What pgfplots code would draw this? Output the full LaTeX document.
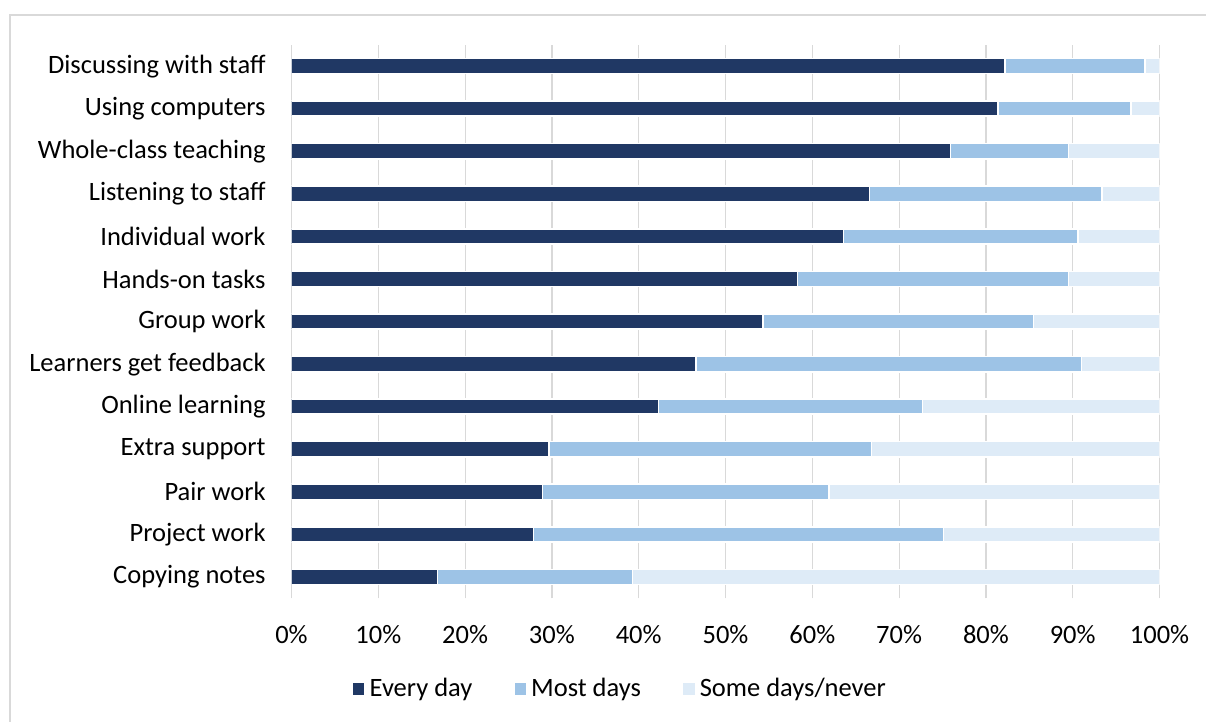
\documentclass[border=0pt]{standalone}
\usepackage{pgfplots}
\pgfplotsset{compat=1.18}
\usepackage{fontspec}
\setmainfont{Carlito}
\definecolor{cDark}{HTML}{203864}
\definecolor{cMid}{HTML}{9DC3E6}
\definecolor{cLight}{HTML}{DEEBF7}
\definecolor{cGrid}{HTML}{D9D9D9}
\begin{document}
\begin{tikzpicture}
\useasboundingbox (0,0) rectangle (603pt,361pt);
\draw[cGrid, line width=0.6pt] (5pt,0) -- (5pt,353.5pt) -- (603pt,353.5pt);
\begin{axis}[
  at={(145.75pt,61.85pt)}, anchor=south west,
  scale only axis, width=434pt, height=276.75pt,
  xbar stacked, bar width=7.6pt,
  xmin=0, xmax=100, ymin=-0.5, ymax=12.5,
  xtick={0,10,...,100},
  xticklabels={0\%,10\%,20\%,30\%,40\%,50\%,60\%,70\%,80\%,90\%,100\%},
  ytick={0,...,12},
  yticklabels={Copying notes,Project work,Pair work,Extra support,Online learning,Learners get feedback,Group work,Hands-on tasks,Individual work,Listening to staff,Whole-class teaching,Using computers,Discussing with staff},
  major tick length=0pt,
  axis line style={draw=none},
  xmajorgrids, grid style={cGrid, line width=0.6pt},
  tick label style={font=\fontsize{13.25pt}{15pt}\selectfont, text=black},
  yticklabel style={inner sep=0pt, xshift=-12.75pt},
  xticklabel style={inner sep=0pt, anchor=north, yshift=-13.35pt},
  legend style={at={(0.379,-0.164)}, anchor=center, draw=none, fill=none,
    legend columns=3, font=\fontsize{13.25pt}{15pt}\selectfont,
    nodes={inner sep=1.8pt},
    /tikz/every even column/.append style={column sep=18.5pt}},
  legend image code/.code={\fill[#1] (0pt,-3.25pt) rectangle (6.5pt,3.25pt);},
]
\addplot[fill=cDark, draw=white, line width=0.8pt] coordinates {
(16.8,0) (27.9,1) (28.9,2) (29.7,3) (42.3,4) (46.6,5) (54.3,6) (58.3,7) (63.6,8) (66.6,9) (75.9,10) (81.4,11) (82.2,12)};
\addplot[fill=cMid, draw=white, line width=0.8pt] coordinates {
(22.5,0) (47.2,1) (33.0,2) (37.1,3) (30.4,4) (44.4,5) (31.2,6) (31.2,7) (27.0,8) (26.8,9) (13.6,10) (15.3,11) (16.1,12)};
\addplot[fill=cLight, draw=white, line width=0.8pt] coordinates {
(60.7,0) (24.9,1) (38.1,2) (33.2,3) (27.3,4) (9.0,5) (14.5,6) (10.5,7) (9.4,8) (6.6,9) (10.5,10) (3.3,11) (1.7,12)};
\legend{Every day,Most days,Some days/never}
\end{axis}
\end{tikzpicture}
\end{document}
